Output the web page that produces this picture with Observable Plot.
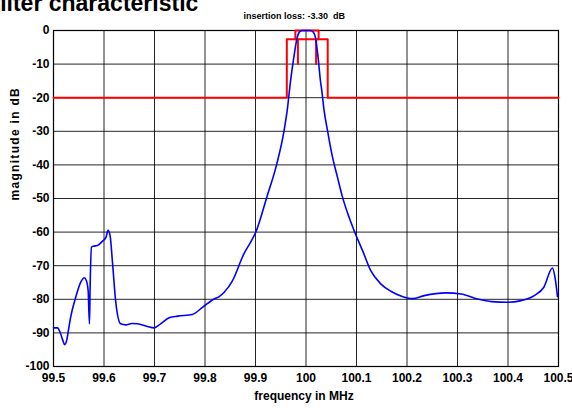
<!DOCTYPE html>
<html><head><meta charset="utf-8">
<script src="https://cdn.jsdelivr.net/npm/d3@7"></script>
<script src="https://cdn.jsdelivr.net/npm/@observablehq/plot@0.6"></script>
<style>body{margin:0;background:#fff}</style>
</head><body><div id="chart"></div>
<script>
const title = "filter characteristic";
const subtitle = "insertion loss: -3.30\u00a0 dB";
const xLabel = "frequency in MHz";
const yLabel = "magnitude in dB";
const xTicks = [99.5, 99.6, 99.7, 99.8, 99.9, 100, 100.1, 100.2, 100.3, 100.4, 100.5];
const xTickLabels = ["99.5", "99.6", "99.7", "99.8", "99.9", "100", "100.1", "100.2", "100.3", "100.4", "100.5"];
const yTicks = [0, -10, -20, -30, -40, -50, -60, -70, -80, -90, -100];
const yTickLabels = ["0", "-10", "-20", "-30", "-40", "-50", "-60", "-70", "-80", "-90", "-100"];

const responseFreq = [99.500, 99.508, 99.513, 99.518, 99.522, 99.526, 99.530, 99.534, 99.544, 99.554,
  99.561, 99.565, 99.5686, 99.5712, 99.5725, 99.5752, 99.579, 99.587, 99.597, 99.604,
  99.608, 99.612, 99.617, 99.623, 99.633, 99.643, 99.655, 99.666, 99.686, 99.699,
  99.712, 99.729, 99.746, 99.775, 99.795, 99.818, 99.828, 99.838, 99.854, 99.877,
  99.891, 99.9006, 99.9224, 99.9422, 99.9566, 99.963, 99.969, 99.9758, 99.9824, 99.9871,
  99.9923, 100.0089, 100.0141, 100.0188, 100.0240, 100.0287, 100.0313, 100.0358, 100.0426, 100.0525,
  100.0624, 100.0723, 100.0853, 100.0986, 100.112, 100.128, 100.148, 100.168, 100.188, 100.211,
  100.234, 100.277, 100.307, 100.340, 100.368, 100.399, 100.426, 100.452, 100.471, 100.488,
  100.493, 100.498];
const responseDb = [-88.5, -88.5, -89.8, -92.0, -93.5, -92.3, -88.8, -85.3, -79.4, -74.9,
  -73.6, -74.4, -77.4, -87.3, -76.4, -64.5, -64.2, -64.0, -62.7, -61.5,
  -59.5, -61.0, -69.4, -80.4, -87.3, -87.6, -87.2, -87.3, -88.1, -88.5,
  -87.3, -85.5, -85.0, -84.5, -82.4, -79.9, -79.2, -77.9, -74.6, -66.5,
  -62.8, -60.0, -49.6, -39.7, -29.8, -23.5, -15.5, -8.1, -2.2, -0.4,
  0, 0, -0.4, -2.2, -8.1, -15.1, -17.9, -23.8, -29.8, -37.7,
  -43.7, -49.6, -55.6, -60.8, -65.5, -71.4, -75.4, -77.6, -79.0, -79.8,
  -78.9, -78.1, -78.4, -79.9, -80.7, -80.9, -80.4, -78.9, -76.4, -70.7,
  -73.4, -79.2];

const maskOuterFreq = [99.5, 99.962, 99.962, 100.043, 100.043, 100.5];
const maskOuterDb = [-20, -20, -2.6, -2.6, -20, -20];
const maskInnerFreq = [99.984, 99.984, 99.979, 99.979, 100.025, 100.025, 100.02, 100.02];
const maskInnerDb = [-10, -2.6, -2.6, 0, 0, -2.6, -2.6, -10];

const response = responseFreq.map((f, i) => ({f, db: responseDb[i]}));
const maskOuter = maskOuterFreq.map((f, i) => ({f, db: maskOuterDb[i]}));
const maskInner = maskInnerFreq.map((f, i) => ({f, db: maskInnerDb[i]}));

const chart = Plot.plot({
  width: 572, height: 408,
  marginLeft: 53, marginRight: 14, marginTop: 30, marginBottom: 42,
  style: {fontFamily: "'Liberation Sans', Arial, sans-serif", fontSize: "12px", fontWeight: "bold", background: "#fff", color: "#000"},
  x: {domain: [99.5, 100.5]},
  y: {domain: [-100, 0]},
  marks: [
    Plot.gridX(xTicks, {stroke: "#000", strokeOpacity: 0.85}),
    Plot.gridY(yTicks, {stroke: "#000", strokeOpacity: 0.85}),
    Plot.frame({stroke: "#000", strokeWidth: 1.2}),
    Plot.axisX(xTicks, {tickSize: 0, tickPadding: 7, label: null, tickFormat: d => xTickLabels[xTicks.indexOf(d)]}),
    Plot.axisY(yTicks, {tickSize: 0, tickPadding: 4, label: null, tickFormat: d => yTickLabels[yTicks.indexOf(d)]}),
    Plot.line(maskOuter, {x: "f", y: "db", stroke: "#ff0000", strokeWidth: 2, curve: "linear"}),
    Plot.line(maskInner, {x: "f", y: "db", stroke: "#ff0000", strokeWidth: 2, curve: "linear"}),
    Plot.line(response, {x: "f", y: "db", stroke: "#0000ff", strokeWidth: 1.6, curve: "monotone-x"}),
    Plot.text([title], {text: d => d, frameAnchor: "top-left", dx: -61, dy: -20, textAnchor: "start", lineAnchor: "bottom", fontSize: 23, fontWeight: "bold"}),
    Plot.text([subtitle], {text: d => d, frameAnchor: "top-left", dx: 190, dy: -12, textAnchor: "start", lineAnchor: "bottom", fontSize: 9, fontWeight: "bold"}),
    Plot.text([xLabel], {text: d => d, frameAnchor: "bottom", dx: -2, dy: 33, lineAnchor: "bottom", fontSize: 12, fontWeight: "bold"}),
    Plot.text([yLabel], {text: d => d, frameAnchor: "left", dx: -38, dy: 2, rotate: -90, lineAnchor: "middle", fontSize: 12, fontWeight: "bold"})
  ]
});
document.getElementById("chart").appendChild(chart);
chart.querySelectorAll("text").forEach(t => {
  if (t.textContent === yLabel) t.setAttribute("letter-spacing", "1.3");
});
</script>
</body></html>
